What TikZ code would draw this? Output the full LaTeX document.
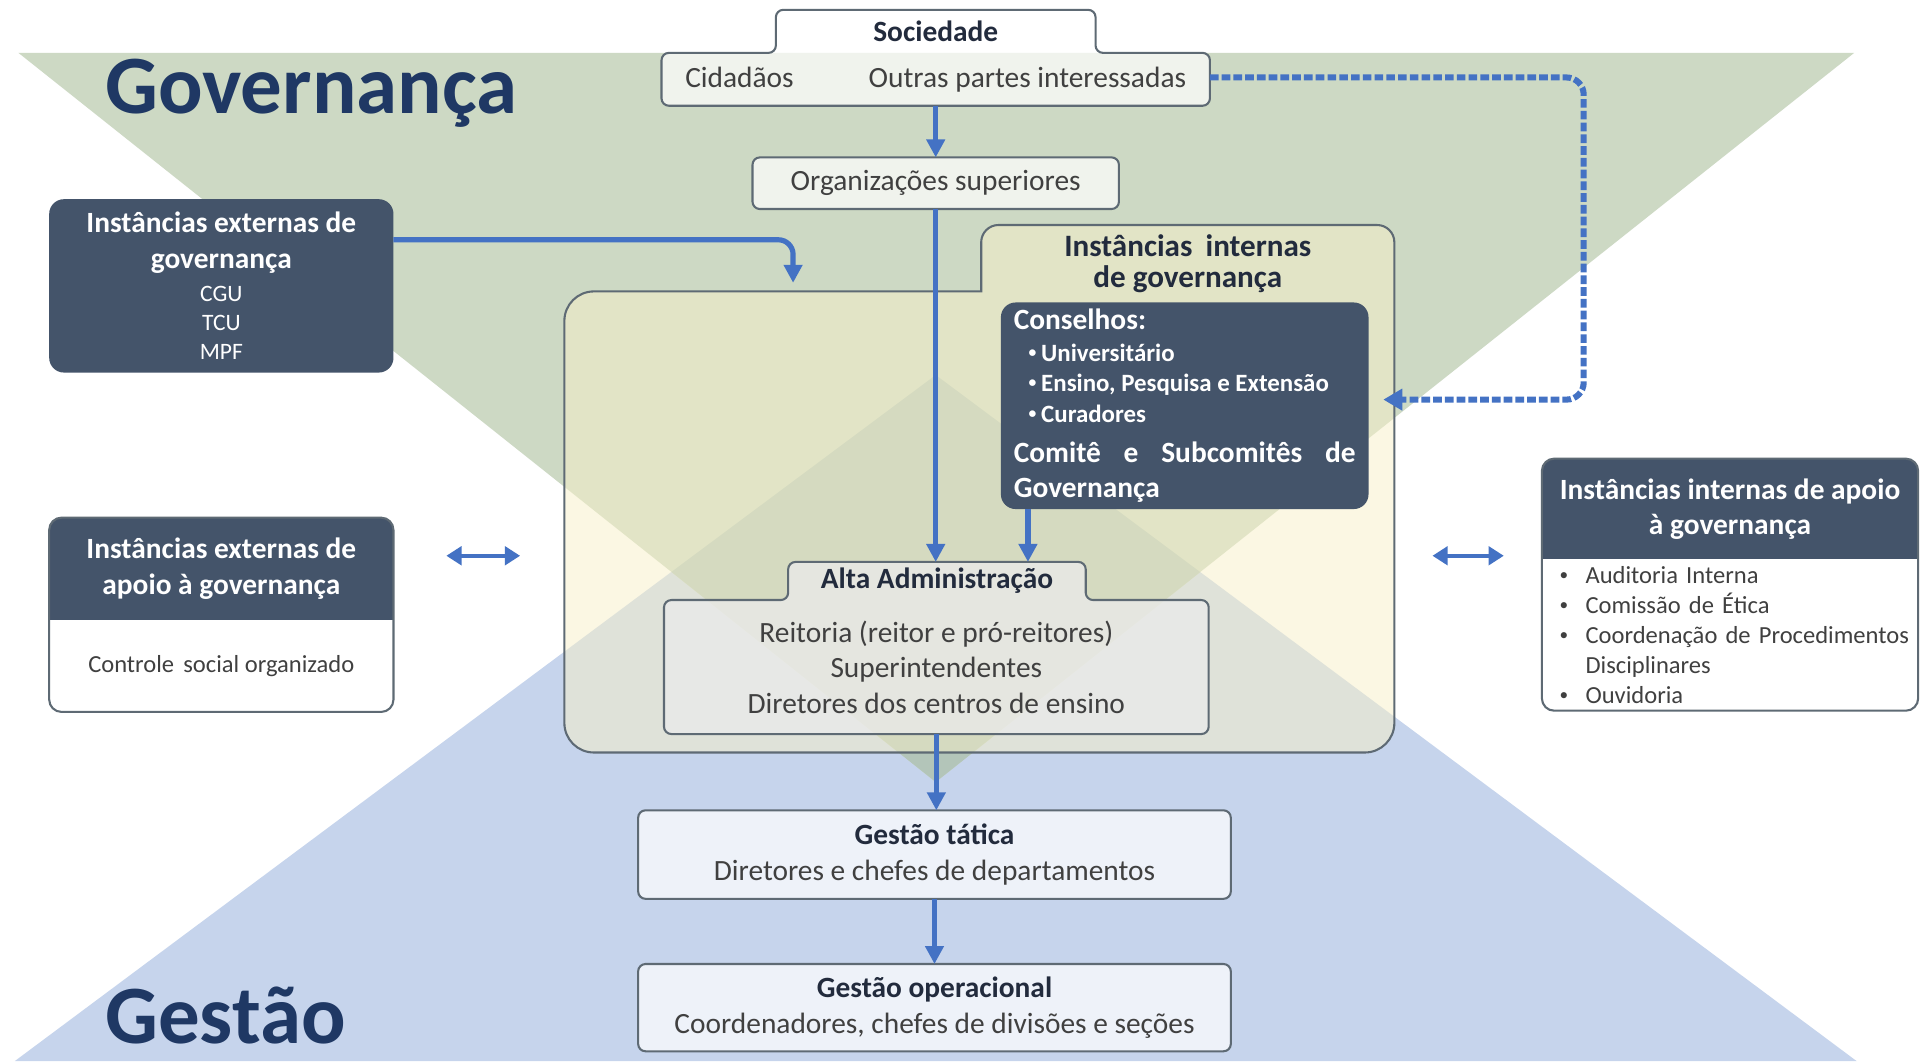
\documentclass[tikz,border=0pt]{standalone}
\usepackage{fontspec}
\setmainfont{Carlito}
\usetikzlibrary{arrows.meta,positioning}
\newlength{\px}\setlength{\px}{0.0125cm}
\def\fntbody{\fontsize{8.5}{10.3}\selectfont}
\def\fntsmall{\fontsize{7.1}{8.7}\selectfont}
\def\fnttitle{\fontsize{24}{28}\selectfont\bfseries}
\def\cgufnt{\mdseries\fontsize{6.8}{10.3}\selectfont}
\def\conitem#1{{\fontsize{7.2}{10.3}\selectfont\spaceskip=0pt\relax\hspace*{12\px}\raisebox{1.2pt}{\fontsize{4.5}{5}\selectfont•}\hspace{4\px}#1}}
\def\lstdot{\raisebox{0.9pt}{\fontsize{5}{6}\selectfont•}}
\def\jf{\hskip 0pt plus 1filll\relax}
\definecolor{govgreen}{HTML}{CDD9C4}
\definecolor{gesblue}{HTML}{C6D4EC}
\definecolor{mixgreen}{HTML}{B3C5B9}
\definecolor{slate}{HTML}{44546A}
\definecolor{navy}{HTML}{1F3864}
\definecolor{headtxt}{HTML}{222B3D}
\definecolor{bodytxt}{HTML}{404040}
\definecolor{flowblue}{HTML}{4472C4}
\definecolor{edgegray}{HTML}{5E6A74}
\definecolor{cream}{HTML}{F8F0C8}
\definecolor{altagray}{HTML}{EBEBEB}
\pgfdeclarelayer{back}
\pgfsetlayers{back,main}
\tikzset{
  bigtitle/.style={font=\fnttitle, text=navy, inner sep=0pt},
  tabtext/.style={inner sep=0pt, outer sep=0pt, font=\fntbody, text=bodytxt, align=center},
  lightbox/.style={draw=edgegray, line width=.6pt, fill=white, fill opacity=.7, text opacity=1,
    rounded corners=6\px, inner sep=0pt, outer sep=0pt, font=\fntbody, text=bodytxt, align=center},
  darkbox/.style={fill=slate, rounded corners=12\px, inner sep=0pt, outer sep=0pt,
    font=\fntbody\bfseries, text=white, align=center},
  headpart/.style={inner sep=0pt, outer sep=0pt, font=\fntbody\bfseries, text=white, align=center},
  listpart/.style={inner sep=0pt, outer sep=0pt, font=\fntsmall, text=bodytxt, align=center},
  frame/.style={draw=edgegray, line width=.6pt},
  flow/.style={draw=flowblue, line width=1.5pt, -{Triangle[length=5.2pt,width=5.2pt]}},
  dashflow/.style={draw=flowblue, line width=1.75pt, dash pattern=on 2.5pt off 0.9pt,
    rounded corners=14\px, -{Triangle[length=5.5pt,width=6pt]}},
  twoway/.style={draw=flowblue, line width=1.2pt,
    {Triangle[length=4.4pt,width=5.3pt]}-{Triangle[length=4.4pt,width=5.3pt]}}
}

\begin{document}
\begin{tikzpicture}[x=0.0125cm, y=-0.0125cm]
	%%%%% START %%%%%
	\useasboundingbox (0,0) rectangle (1568,863);
	
	\begin{pgfonlayer}{back}
		\fill[white] (0,0) rectangle (1568,863);
		\fill[gesblue] (12,863) -- (761,305) -- (1510,863) -- cycle;
		\fill[govgreen] (15,43) -- (1508,43) -- (761,636) -- cycle;
		\begin{scope}
			\clip (12,863) -- (761,305) -- (1510,863) -- cycle;
			\fill[mixgreen] (15,43) -- (1508,43) -- (761,636) -- cycle;
		\end{scope}
	\end{pgfonlayer}
	
	\node[bigtitle, anchor=base west] (govtitle) at (85,92) {Governança};
	\node[bigtitle, anchor=base west] (gestitle) at (85,849) {Gestão};
	
	%%%%% SOCIEDADE %%%%%
	\node[tabtext, font=\fntbody\bfseries, text=headtxt, minimum width=260\px, minimum height=35\px] (soct) at (761,25.5) {Sociedade};
	\node[tabtext, minimum width=446\px, minimum height=43\px] (socb) at (761,64.5) {Cidadãos\hspace{61\px}Outras partes interessadas};
	\node[lightbox, minimum width=298\px, minimum height=42\px] (org) at (761,149) {Organizações superiores};
	
	\node[darkbox, minimum width=280\px, minimum height=141\px] (extgov) at (180,232.5) {Instâncias externas de\\governança\\[-0.7pt]\cgufnt CGU\\[-1.8pt]\cgufnt TCU\\[-1.8pt]\cgufnt MPF};
	
	%%%%% INSTANCIAS INTERNAS %%%%%
	\node[tabtext, font=\fontsize{9}{8.9}\selectfont\bfseries, text=headtxt, minimum width=336\px, minimum height=54\px] (bigt) at (966,210) {\raisebox{-6\px}[\height][\depth]{\begin{tabular}{@{}c@{}}Instâncias\hspace{5\px} internas\\de governança\end{tabular}}};
	\node[inner sep=0pt, outer sep=0pt, minimum width=675\px, minimum height=375\px] (bigb) at (796.5,424.5) {};
	
	\node[darkbox, minimum width=299\px, minimum height=168\px, text width=278\px, align=left] (cons) at (963.5,330) {Conselhos:\\[-1.1pt]
		\conitem{Universitário}\\[-1.4pt]
		\conitem{Ensino, Pesquisa e Extensão}\\[-1.4pt]
		\conitem{Curadores}\\[1.1pt]
		Comitê\jf e\jf Subcomitês\jf de\\Governança};
	
	\node[tabtext, font=\fntbody\bfseries, text=headtxt, minimum width=242\px, minimum height=31\px] (altat) at (762,472.5) {Alta Administração};
	\node[tabtext, minimum width=443\px, minimum height=109\px] (altab) at (761.5,542.5) {Reitoria (reitor e pró-reitores)\\Superintendentes\\Diretores dos centros de ensino};
	
	%%%%% GESTAO %%%%%
	\node[lightbox, minimum width=482\px, minimum height=72\px] (tat) at (760,695) {\textcolor{headtxt}{\bfseries Gestão tática}\\Diretores e chefes de departamentos};
	\node[lightbox, minimum width=482\px, minimum height=71\px] (ope) at (760,819.5) {\textcolor{headtxt}{\bfseries Gestão operacional}\\Coordenadores, chefes de divisões e seções};
	
	%%%%% APOIO %%%%%
	\node[headpart, minimum width=280\px, minimum height=83\px] (extaph) at (180,462.5) {Instâncias externas de\\apoio à governança};
	\node[listpart, below=0pt of extaph, minimum width=280\px, minimum height=75\px] (extapb) {Controle\hspace{3\px} social organizado};
	
	\node[headpart, minimum width=306\px, minimum height=82\px] (intaph) at (1407,414) {Instâncias internas de apoio\\à governança};
	\node[listpart, below=0pt of intaph, minimum width=306\px, minimum height=123\px, text width=285\px, align=left] (intapb) {\raisebox{-2\px}[\height][\depth]{\begin{tabular}{@{\hspace{4\px}}l@{\hspace{14\px}}l@{}}\lstdot&Auditoria Interna\\\lstdot&Comissão de Ética\\\lstdot&Coordenação de Procedimentos\\&Disciplinares\\\lstdot&Ouvidoria\end{tabular}}};
	
	\begin{pgfonlayer}{back}
		\draw[frame, fill=cream, fill opacity=.5] (bigb.south) [rounded corners=24\px] -- (bigb.south west) -- (bigb.north west) [sharp corners] -- (bigt.south west) [rounded corners=14\px] -- (bigt.north west) -- (bigt.north east) [rounded corners=24\px] -- (bigb.south east) -- cycle;
		\draw[frame, fill=white, fill opacity=.7, rounded corners=6\px] (socb.south) -- (socb.south west) -- (socb.north west) -- (soct.south west) -- (soct.north west) -- (soct.north east) -- (soct.south east) -- (socb.north east) -- (socb.south east) -- cycle;
		\draw[frame, fill=altagray, fill opacity=.75, rounded corners=6\px] (altab.south) -- (altab.south west) -- (altab.north west) -- (altat.south west) -- (altat.north west) -- (altat.north east) -- (altat.south east) -- (altab.north east) -- (altab.south east) -- cycle;
		\begin{scope}
			\clip[rounded corners=10\px] (extaph.north west) rectangle (extapb.south east);
			\fill[white] (extapb.north west) rectangle (extapb.south east);
			\fill[slate] (extaph.north west) rectangle (extaph.south east);
		\end{scope}
		\draw[frame, rounded corners=10\px] (extaph.north west) rectangle (extapb.south east);
		\begin{scope}
			\clip[rounded corners=10\px] (intaph.north west) rectangle (intapb.south east);
			\fill[white] (intapb.north west) rectangle (intapb.south east);
			\fill[slate] (intaph.north west) rectangle (intaph.south east);
		\end{scope}
		\draw[frame, rounded corners=10\px] (intaph.north west) rectangle (intapb.south east);
	\end{pgfonlayer}
	
	%%%%% ARROWS %%%%%
	\draw[flow] (socb.south) -- (org.north);
	\draw[flow] (org.south) -- (org.south |- altat.north);
	\draw[flow] ([xshift=22\px]cons.south west) -- ([xshift=22\px]cons.south west |- altat.north);
	\draw[flow] (altab.south) -- (altab.south |- tat.north);
	\draw[flow] (tat.south) -- (ope.north);
	
	\coordinate (extin) at (645,230);
	\draw[flow, rounded corners=12\px] ([yshift=37.5\px]extgov.east) -| (extin);
	
	\coordinate (loopturn) at (1288,325);
	\draw[dashflow] ([yshift=1.5\px]socb.east) -| (loopturn) -- ([xshift=12\px]cons.east |- loopturn);
	
	\coordinate (lw1) at (363,452);
	\coordinate (lw2) at (423,452);
	\coordinate (rw1) at (1165,452);
	\coordinate (rw2) at (1223,452);
	\draw[twoway] (lw1) -- (lw2);
	\draw[twoway] (rw1) -- (rw2);
	%%%%% END %%%%%
\end{tikzpicture}
\end{document}
